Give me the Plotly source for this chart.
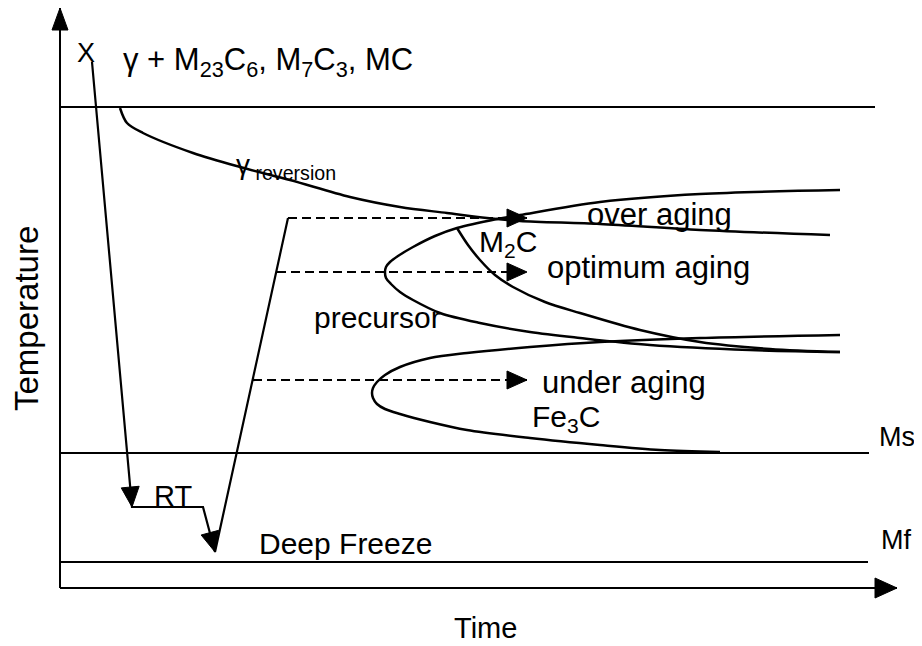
import plotly.graph_objects as go

# ---- schematic frame (x = time, y = temperature, drawn in a 922x646 frame, y downward) ----
y_axis_x = [60, 60]
y_axis_y = [588, 8]
x_axis_x = [60, 897]
x_axis_y = [588, 588]
top_line_x = [60, 875]
top_line_y = [107, 107]
ms_line_x = [60, 869]
ms_line_y = [453, 453]
mf_line_x = [60, 868]
mf_line_y = [562, 562]

# ---- transformation curves ----
gamma_rev_x = [120, 127, 143, 193, 240, 290, 350, 400, 447, 487, 520, 600, 700, 830]
gamma_rev_y = [108, 123, 133, 153, 167, 180, 197, 207, 213, 218, 221, 224, 230, 235]

precursor_x = [840, 700, 600, 520, 497, 457, 435, 413, 398, 390, 386, 385, 386, 391, 400, 413, 440, 480, 530, 580, 650, 750, 840]
precursor_y = [190, 194, 202, 215, 219, 228, 236, 247, 256, 262, 267, 272, 278, 284, 292, 300, 313, 323, 332, 338, 345, 350, 352]

m2c_x = [457, 468, 480, 495, 513, 545, 580, 640, 700, 770, 840]
m2c_y = [228, 245, 260, 275, 287, 302, 313, 330, 342, 349, 352]

fe3c_x = [840, 700, 600, 530, 467, 430, 400, 385, 377, 373, 372, 373, 377, 385, 400, 430, 467, 530, 600, 660, 720]
fe3c_y = [335, 338, 342, 347, 353, 358, 367, 375, 382, 388, 393, 398, 404, 409, 414, 422, 430, 438, 445, 450, 452]

# ---- heat-treatment path ----
path_x = [92, 132, 203, 215, 288]
path_y = [62, 507, 507, 552, 218]

over_x = [288, 527]
over_y = [218, 218]
optimum_x = [277, 527]
optimum_y = [272, 272]
under_x = [253, 527]
under_y = [380, 380]

# arrow heads: tip and a point behind the tip (direction)
arrow_tip_x = [60, 897, 132, 215, 527, 527, 527]
arrow_tip_y = [8, 588, 507, 552, 218, 272, 380]
arrow_from_x = [60, 60, 92, 203, 288, 277, 253]
arrow_from_y = [588, 588, 62, 507, 218, 272, 380]

# ---- labels ----
label_text = ["X", "γ + M<sub>23</sub>C<sub>6</sub>, M<sub>7</sub>C<sub>3</sub>, MC",
              "γ<sub> reversion</sub>", "over aging", "M<sub>2</sub>C", "optimum aging",
              "precursor", "under aging", "Fe<sub>3</sub>C", "RT", "Deep Freeze", "Ms", "Mf"]
label_x = [75, 121, 234, 585, 477, 545, 312, 540, 530, 152, 257, 877, 879]
label_y = [53, 62, 166, 214, 243, 267, 317, 382, 418, 496, 543, 437, 540]
label_size = [27, 31, 28, 31, 30, 31, 30, 31, 30, 29, 30, 27, 27]

axis_title_y = "Temperature"
axis_title_x = "Time"

FONT = "Liberation Sans, Arial, sans-serif"
INK = "black"

# the page places the figure 8 px from the window's top-left corner
PAGE_OFFSET = 8
WIN_W, WIN_H = 922, 646
FIG_W = WIN_W - 2 * PAGE_OFFSET
FIG_H = WIN_H - PAGE_OFFSET

fig = go.Figure()


def add_line(xs, ys, width=2.0, dash=None, spline=False):
    fig.add_trace(go.Scatter(
        x=xs, y=ys, mode="lines", hoverinfo="skip", showlegend=False,
        line=dict(color=INK, width=width, dash=dash,
                  shape="spline" if spline else "linear",
                  smoothing=0.9 if spline else None)))


for xs, ys in [(y_axis_x, y_axis_y), (x_axis_x, x_axis_y), (top_line_x, top_line_y),
               (ms_line_x, ms_line_y), (mf_line_x, mf_line_y)]:
    add_line(xs, ys, width=2.0)

for xs, ys in [(gamma_rev_x, gamma_rev_y), (precursor_x, precursor_y),
               (m2c_x, m2c_y), (fe3c_x, fe3c_y)]:
    add_line(xs, ys, width=2.5, spline=True)

add_line(path_x, path_y, width=2.2)
for xs, ys in [(over_x, over_y), (optimum_x, optimum_y), (under_x, under_y)]:
    add_line(xs, ys, width=2.2, dash="9px,5px")

# arrow heads as filled triangles
head_len = [22, 22, 20, 20, 20, 20, 20]
head_half = [8, 10, 9, 9, 9, 9, 9]
for tx, ty, fx, fy, L, H in zip(arrow_tip_x, arrow_tip_y, arrow_from_x, arrow_from_y, head_len, head_half):
    dx, dy = tx - fx, ty - fy
    n = (dx * dx + dy * dy) ** 0.5
    ux, uy = dx / n, dy / n
    bx, by = tx - ux * L, ty - uy * L
    px, py = -uy, ux
    fig.add_trace(go.Scatter(
        x=[tx, bx + px * H, bx - px * H, tx], y=[ty, by + py * H, by - py * H, ty],
        mode="lines", fill="toself", fillcolor=INK, line=dict(color=INK, width=1),
        hoverinfo="skip", showlegend=False))

for t, x, y, s in zip(label_text, label_x, label_y, label_size):
    fig.add_annotation(x=x, y=y, text=t, showarrow=False, xanchor="left", yanchor="middle",
                       font=dict(family=FONT, size=s, color=INK))

fig.add_annotation(x=26, y=319, text=axis_title_y, textangle=-90, showarrow=False,
                   xanchor="center", yanchor="middle", font=dict(family=FONT, size=33, color=INK))
fig.add_annotation(x=485, y=628, text=axis_title_x, showarrow=False,
                   xanchor="center", yanchor="middle", font=dict(family=FONT, size=29, color=INK))

fig.update_xaxes(range=[PAGE_OFFSET, PAGE_OFFSET + FIG_W], visible=False, fixedrange=True)
fig.update_yaxes(range=[PAGE_OFFSET + FIG_H, PAGE_OFFSET], visible=False, fixedrange=True)
fig.update_layout(width=FIG_W, height=FIG_H, autosize=False,
                  margin=dict(l=0, r=0, t=0, b=0, pad=0),
                  paper_bgcolor="white", plot_bgcolor="white")

fig.write_html("out.html")
